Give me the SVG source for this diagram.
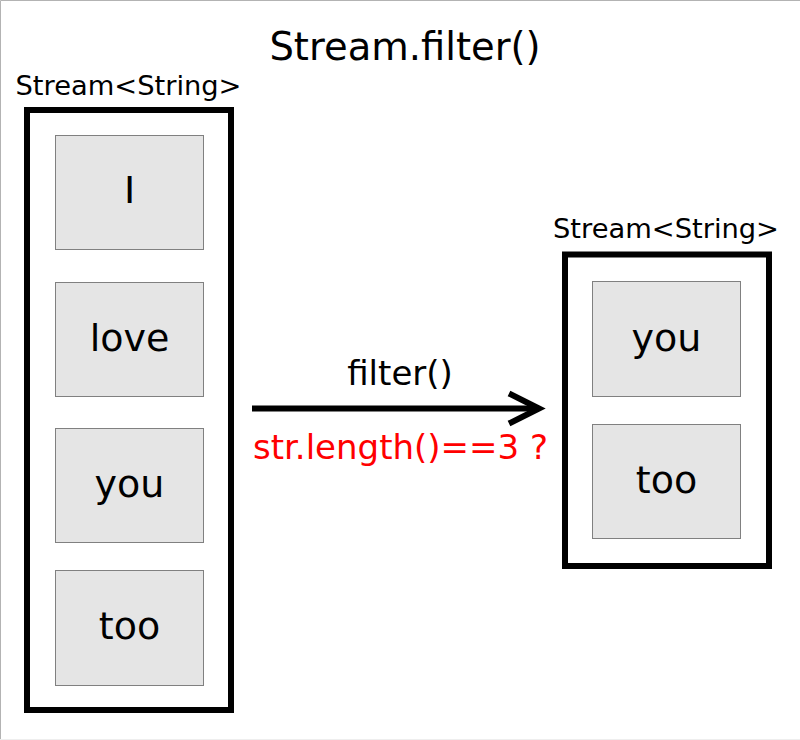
<svg xmlns="http://www.w3.org/2000/svg" width="800" height="740" viewBox="0 0 800 740">
<style>
text{font-family:"DejaVu Sans",sans-serif;text-anchor:middle;fill:#000}
.title{font-size:38.5px}
.label{font-size:27.3px}
.item{font-size:38px}
.op{font-size:34px}
.cond{font-size:34px;fill:#ff0000}
.stream{fill:#fff;stroke:#000;stroke-width:6}
.cell{fill:#e5e5e5;stroke:#808080;stroke-width:1}
.conn{stroke:#000;stroke-width:6;fill:none}
</style>
<defs>
<marker id="chev" markerUnits="userSpaceOnUse" markerWidth="50" markerHeight="50" viewBox="-40 -25 50 50" refX="0" refY="0" orient="auto">
<path d="M-30,-15 L0,0 L-30,15" fill="none" stroke="#000" stroke-width="6"/>
</marker>
</defs>
<rect x="0" y="0" width="800" height="740" fill="#fff"/>
<path d="M0.5,740 V0.5 H800" fill="none" stroke="#b3b3b3" stroke-width="1"/>
<path d="M0,739.5 H800" fill="none" stroke="#eeeeee" stroke-width="1"/>
<text class="title" x="405" y="60">Stream.filter()</text>
<g id="source">
<text class="label" x="128.5" y="95">Stream&lt;String&gt;</text>
<rect class="stream" x="27" y="110" width="204" height="600"/>
</g>
<g id="src-I"><rect class="cell" x="55.5" y="135.5" width="148" height="114"/><text class="item" x="129.5" y="203">I</text></g>
<g id="src-love"><rect class="cell" x="55.5" y="282.5" width="148" height="114"/><text class="item" x="129.5" y="351">love</text></g>
<g id="src-you"><rect class="cell" x="55.5" y="428.5" width="148" height="114"/><text class="item" x="129.5" y="497">you</text></g>
<g id="src-too"><rect class="cell" x="55.5" y="570.5" width="148" height="115"/><text class="item" x="129.5" y="639">too</text></g>
<g id="result">
<text class="label" x="666" y="238">Stream&lt;String&gt;</text>
<rect class="stream" x="565" y="254.5" width="204" height="311.5"/>
</g>
<g id="res-you"><rect class="cell" x="592.5" y="281.5" width="148" height="115"/><text class="item" x="666.5" y="351">you</text></g>
<g id="res-too"><rect class="cell" x="592.5" y="424.5" width="148" height="114"/><text class="item" x="666.5" y="493">too</text></g>
<g id="connectors">
<line class="conn" x1="252" y1="408.5" x2="539" y2="408.5" marker-end="url(#chev)"/>
<text class="op" x="400" y="385">filter()</text>
<text class="cond" x="400.5" y="459">str.length()==3 ?</text>
</g>
</svg>
